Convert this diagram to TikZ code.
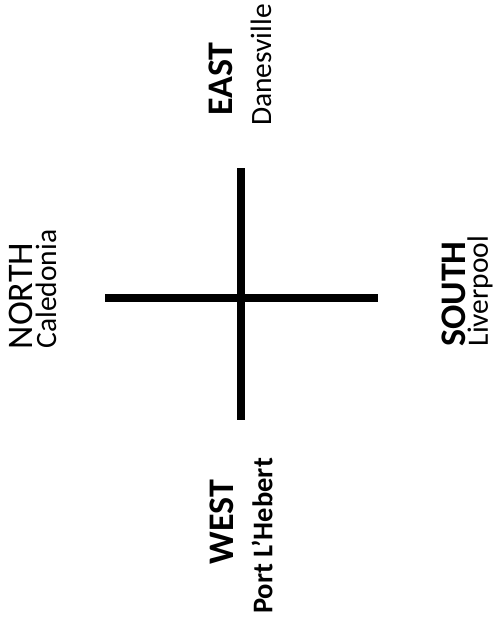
\documentclass[tikz,border=0pt]{standalone}
\usepackage{fontspec}
\setmainfont{Carlito}
\begin{document}
\begin{tikzpicture}[x=1pt,y=-1pt,
  dir/.style={rotate=90,inner sep=0pt,font=\fontsize{36}{38}\selectfont\bfseries},
  dirn/.style={rotate=90,inner sep=0pt,font=\fontsize{36}{38}\selectfont},
  town/.style={rotate=90,inner sep=0pt,font=\fontsize{29.5}{31}\selectfont},
  townb/.style={rotate=90,inner sep=0pt,font=\fontsize{28.5}{30}\selectfont\bfseries},
  arm/.style={line width=8pt,black}]
\useasboundingbox (0,0) rectangle (494,629);
\coordinate (top) at (241,168);
\coordinate (bot) at (241,420);
\coordinate (lft) at (105,298);
\coordinate (rgt) at (378,298);
\draw[arm] (top) -- (bot);
\draw[arm] (lft) -- (rgt);
\node[dir] (east) at (221,79) {EAST};
\node[town] (danes) at (261,65) {Danesville};
\node[dirn] (north) at (21,296) {NORTH};
\node[town] (cal) at (46,289) {Caledonia};
\node[dir] (south) at (454,294) {SOUTH};
\node[town] (liv) at (480,291) {Liverpool};
\node[dir] (west) at (222,522) {WEST};
\node[townb] (port) at (262,536) {Port L’Hebert};
\end{tikzpicture}
\end{document}
